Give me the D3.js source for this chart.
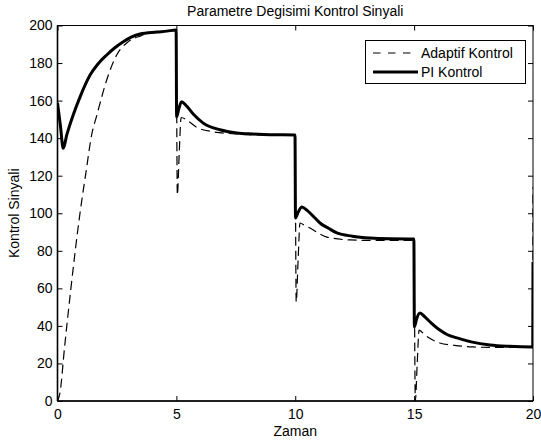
<!DOCTYPE html>
<html>
<head>
<meta charset="utf-8">
<script src="https://cdn.jsdelivr.net/npm/d3@7"></script>
<style>
  html, body { margin: 0; padding: 0; background: #fff; }
  svg { display: block; }
  text { font-family: "Liberation Sans", Arial, Helvetica, sans-serif; fill: #000; }
</style>
</head>
<body>
<script>
// ---- data ----
const title = "Parametre Degisimi Kontrol Sinyali";
const xLabel = "Zaman";
const yLabel = "Kontrol Sinyali";
const xTicks = [0, 5, 10, 15, 20];
const yTicks = [0, 20, 40, 60, 80, 100, 120, 140, 160, 180, 200];
const seriesNames = ["Adaptif Kontrol", "PI Kontrol"];

const adaptifT = [0, 0.1, 0.3, 0.555, 0.946, 1.2, 1.44, 1.65, 2.07, 2.49, 2.98, 3.5, 4.0, 4.5, 4.99,
  5.04, 5.12, 5.2, 5.43, 5.85, 6.55, 7.54, 8.5, 9.99,
  10.04, 10.12, 10.2, 10.4, 10.62, 11.33, 12.3, 13.5, 14.99,
  15.05, 15.13, 15.21, 15.45, 16.08, 16.7, 17.47, 18.5, 19.99, 20];
const adaptifV = [0, 4, 29, 59, 100, 122, 142, 152, 171, 184.3, 191.4, 194.5, 196.3, 197, 197.6,
  109.7, 132, 151, 149.7, 145.8, 143.4, 142.2, 141.7, 141.7,
  52.7, 75, 94.8, 93.5, 92.1, 87.3, 85.8, 85.5, 85.5,
  0, 20, 37.8, 35.2, 30.9, 29.6, 28.8, 28.5, 28.5, 114];

const piT = [0, 0.12, 0.24, 0.39, 0.66, 0.95, 1.37, 1.7, 2.07, 2.4, 2.75, 3.1, 3.47, 4.18, 4.6, 4.99,
  5.01, 5.1, 5.22, 5.4, 5.7, 6.13, 6.83, 7.54, 8.2, 8.94, 9.99,
  10.01, 10.12, 10.28, 10.5, 10.75, 11.04, 11.4, 11.75, 12.4, 13.14, 14, 14.99,
  15.01, 15.1, 15.24, 15.45, 15.7, 16.08, 16.4, 16.8, 17.4, 18.19, 19, 19.99, 20];
const piV = [158.7, 147, 134.6, 141.7, 152.3, 162, 173.6, 179.5, 184.3, 188, 191.2, 193.8, 195.5, 196.5, 197, 197.6,
  151.3, 155.5, 159.4, 157.5, 153, 148, 144.5, 142.8, 142.2, 141.8, 141.7,
  97.5, 100.5, 103.3, 101.5, 98.5, 94.8, 92, 89.5, 87.8, 86.8, 86.4, 86.3,
  39.4, 43.5, 46.9, 44.8, 41.8, 37.8, 35.3, 33.6, 31.5, 29.8, 29.1, 28.8, 74];

// ---- layout ----
const W = 541, H = 445;
const pL = 57.5, pR = 533, pT = 25.5, pB = 401;
const fs = 14;

const svg = d3.select("body").append("svg").attr("width", W).attr("height", H);

const x = d3.scaleLinear().domain([0, 20]).range([pL, pR]);
const y = d3.scaleLinear().domain([0, 200]).range([pB, pT]);

// curves
const adaptif = adaptifT.map((t, i) => [t, adaptifV[i]]);
const pi = piT.map((t, i) => [t, piV[i]]);
const line = d3.line().x(d => x(d[0])).y(d => y(d[1])).curve(d3.curveMonotoneX);

svg.append("clipPath").attr("id", "clip")
  .append("rect").attr("x", pL).attr("y", pT).attr("width", pR - pL).attr("height", pB - pT);

const plot = svg.append("g").attr("clip-path", "url(#clip)");
plot.append("path").datum(adaptif).attr("d", line)
  .attr("fill", "none").attr("stroke", "#000").attr("stroke-width", 1.2)
  .attr("stroke-dasharray", "9,5");
plot.append("path").datum(pi).attr("d", line)
  .attr("fill", "none").attr("stroke", "#000").attr("stroke-width", 3)
  .attr("stroke-linejoin", "round");

// axes (MATLAB style: ticks inward on all four sides)
const tl = 5;
const axB = svg.append("g").attr("transform", `translate(0,${pB})`)
  .call(d3.axisBottom(x).tickValues(xTicks).tickSizeInner(-tl).tickSizeOuter(0).tickPadding(8).tickFormat(d3.format("d")));
const axT = svg.append("g").attr("transform", `translate(0,${pT})`)
  .call(d3.axisTop(x).tickValues(xTicks).tickSizeInner(-tl).tickSizeOuter(0).tickFormat(""));
const axL = svg.append("g").attr("transform", `translate(${pL},0)`)
  .call(d3.axisLeft(y).tickValues(yTicks).tickSizeInner(-tl).tickSizeOuter(0).tickPadding(5).tickFormat(d3.format("d")));
const axR = svg.append("g").attr("transform", `translate(${pR},0)`)
  .call(d3.axisRight(y).tickValues(yTicks).tickSizeInner(-tl).tickSizeOuter(0).tickFormat(""));

[axB, axT, axL, axR].forEach(g => {
  g.selectAll(".domain").remove();
  g.selectAll("line").attr("stroke", "#000").attr("stroke-width", 1);
  g.selectAll("text").style("font-size", fs + "px")
    .style("font-family", '"Liberation Sans", Arial, Helvetica, sans-serif');
});
axB.selectAll("text").attr("dy", "0.71em");

// frame
svg.append("rect").attr("x", pL).attr("y", pT).attr("width", pR - pL).attr("height", pB - pT)
  .attr("fill", "none").attr("stroke", "#000").attr("stroke-width", 1);
svg.append("line").attr("x1", pL).attr("x2", pR).attr("y1", pB).attr("y2", pB)
  .attr("stroke", "#000").attr("stroke-width", 1.6);
svg.append("line").attr("x1", pL).attr("x2", pL).attr("y1", pT).attr("y2", pB)
  .attr("stroke", "#000").attr("stroke-width", 1.6);

// titles
svg.append("text").attr("x", (pL + pR) / 2).attr("y", 16).attr("text-anchor", "middle")
  .style("font-size", fs + "px").text(title);
svg.append("text").attr("x", (pL + pR) / 2).attr("y", 436).attr("text-anchor", "middle")
  .style("font-size", fs + "px").text(xLabel);
svg.append("text").attr("transform", `translate(19,${(pT + pB) / 2}) rotate(-90)`)
  .attr("text-anchor", "middle").style("font-size", fs + "px").text(yLabel);

// legend
const lg = svg.append("g");
lg.append("rect").attr("x", 365.5).attr("y", 40.5).attr("width", 160).attr("height", 43)
  .attr("fill", "#fff").attr("stroke", "#000").attr("stroke-width", 1);
const rows = [
  { name: seriesNames[0], y: 53, dash: "7.5,7.5", w: 1.2 },
  { name: seriesNames[1], y: 72, dash: null, w: 3 }
];
rows.forEach(r => {
  const l = lg.append("line").attr("x1", 373).attr("x2", 418).attr("y1", r.y).attr("y2", r.y)
    .attr("stroke", "#000").attr("stroke-width", r.w);
  if (r.dash) l.attr("stroke-dasharray", r.dash);
  lg.append("text").attr("x", 421).attr("y", r.y).attr("dy", "0.35em")
    .style("font-size", fs + "px").text(r.name);
});
</script>
</body>
</html>
